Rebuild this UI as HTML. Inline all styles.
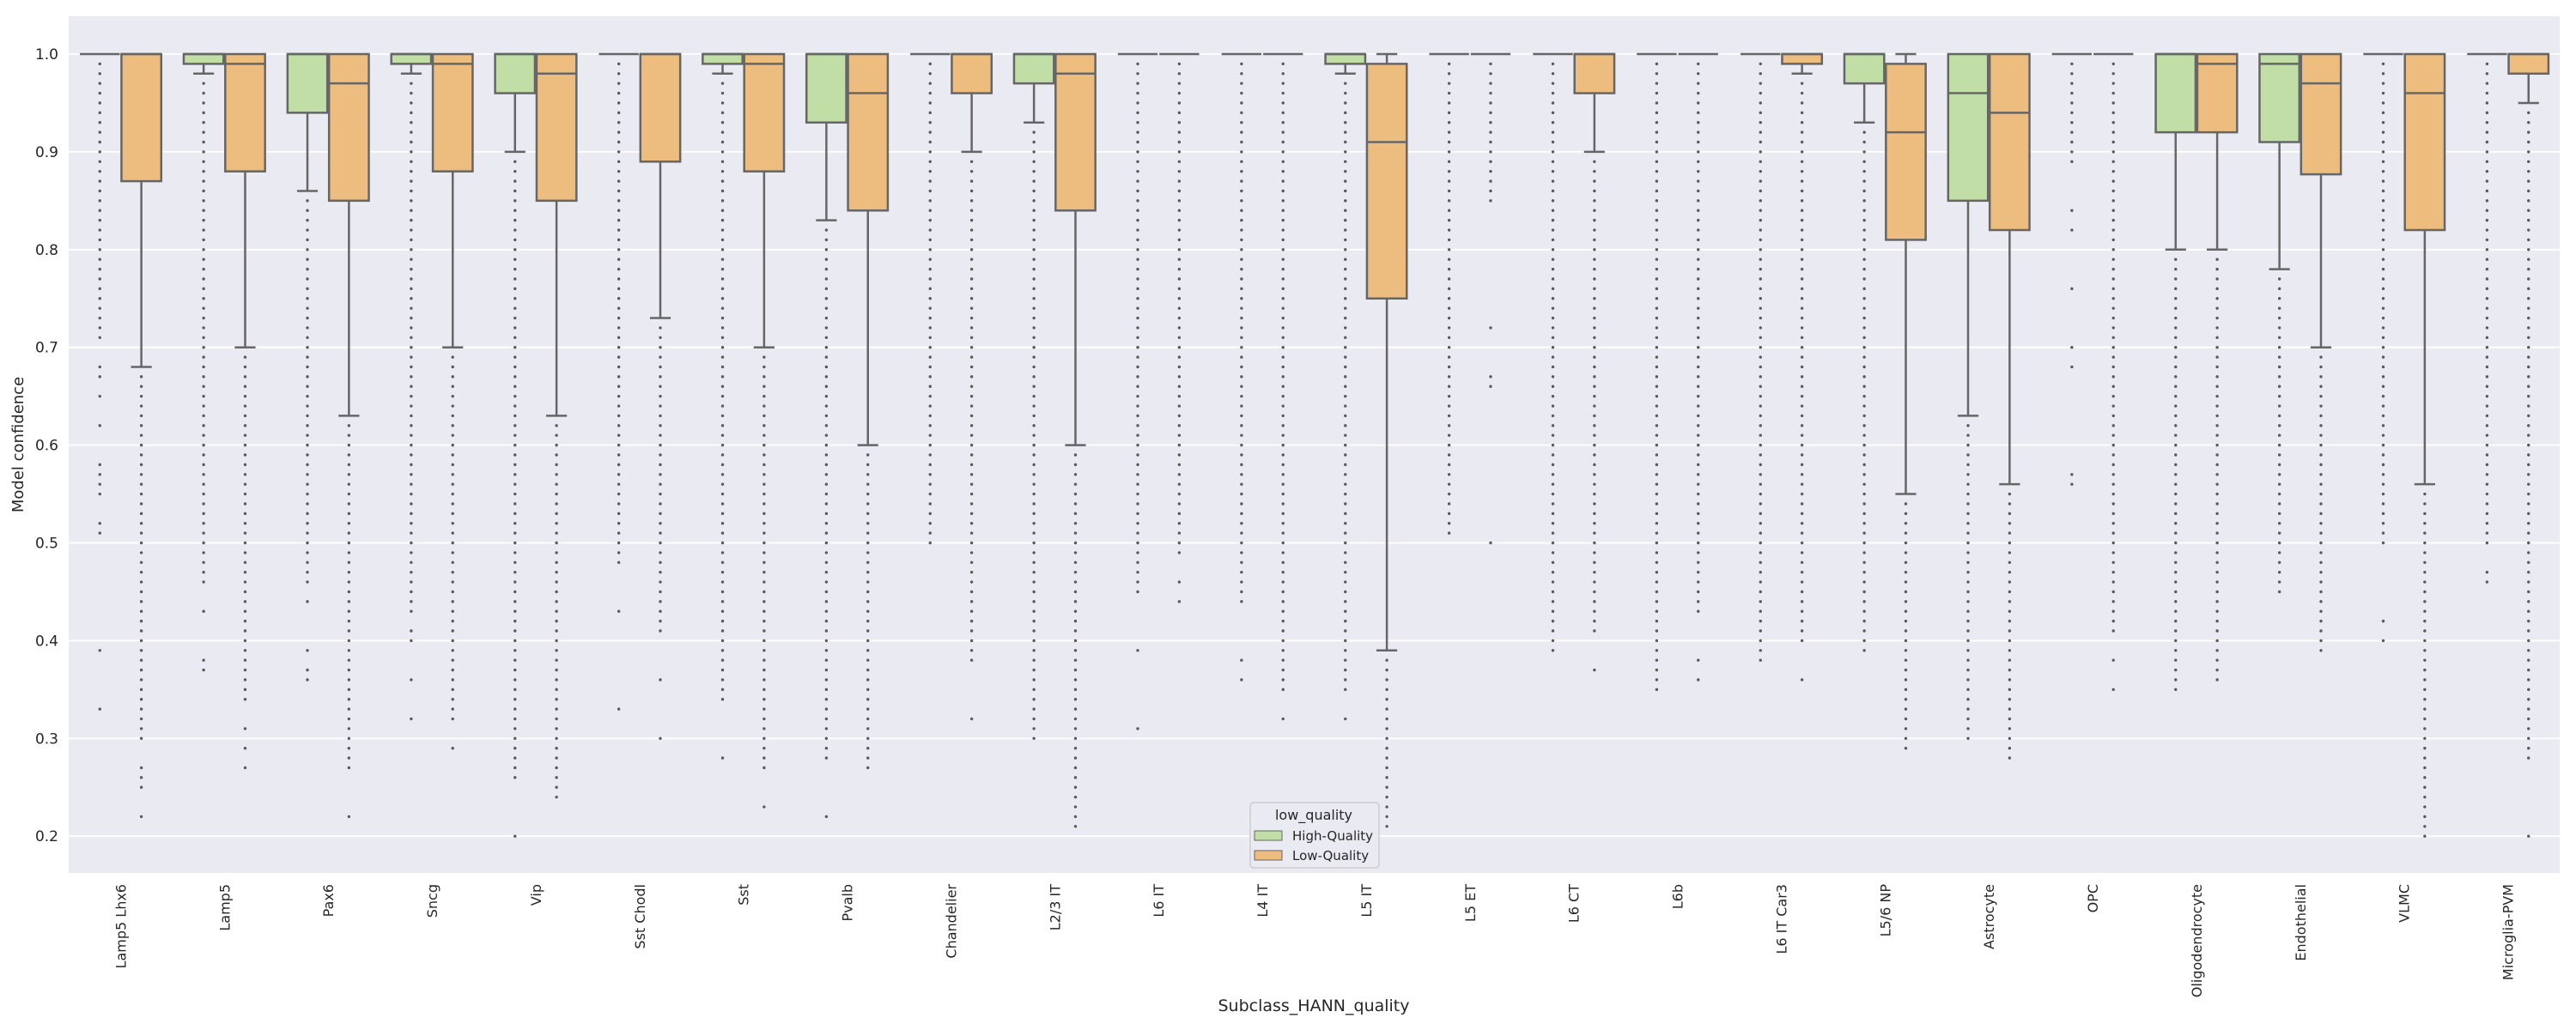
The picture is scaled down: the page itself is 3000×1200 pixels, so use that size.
<!DOCTYPE html>
<html><head><meta charset="utf-8"><style>body{margin:0;background:#fff}svg{display:block}</style></head>
<body>
<svg id="chart" width="3000" height="1200" xmlns="http://www.w3.org/2000/svg" font-family="'DejaVu Sans','Liberation Sans',sans-serif">
<rect x="80" y="19" width="2901" height="998" fill="#eaeaf2"/>
<g id="grid"></g><g id="marks"></g><g id="axes"></g>
<text x="27" y="518" transform="rotate(-90 27 518)" text-anchor="middle" font-size="18" fill="#262626">Model confidence</text>
<text x="1530" y="1178" text-anchor="middle" font-size="19" fill="#262626">Subclass_HANN_quality</text>
<g>
<rect x="1456" y="935" width="150" height="76" rx="4" fill="#eaeaf2" stroke="#cccccc" stroke-width="1.5"/>
<text x="1530" y="955" text-anchor="middle" font-size="16" fill="#262626">low_quality</text>
<rect x="1461" y="968" width="32" height="11" fill="#c1dea7" stroke="#666"/>
<text x="1505" y="979" font-size="15" fill="#262626">High-Quality</text>
<rect x="1461" y="991" width="32" height="11" fill="#ecbd7f" stroke="#666"/>
<text x="1505" y="1002" font-size="15" fill="#262626">Low-Quality</text>
</g>
</svg>
<script>
const categories=["Lamp5 Lhx6","Lamp5","Pax6","Sncg","Vip","Sst Chodl","Sst","Pvalb","Chandelier","L2/3 IT","L6 IT","L4 IT","L5 IT","L5 ET","L6 CT","L6b","L6 IT Car3","L5/6 NP","Astrocyte","OPC","Oligodendrocyte","Endothelial","VLMC","Microglia-PVM"];
const yTicks=[0.2,0.3,0.4,0.5,0.6,0.7,0.8,0.9,1.0];
// High-quality: [whislo, q1, med, q3, whishi]
const hqStats=[[1,1,1,1,1],[.98,.99,1,1,1],[.86,.94,1,1,1],[.98,.99,1,1,1],[.90,.96,1,1,1],[1,1,1,1,1],[.98,.99,1,1,1],[.83,.93,1,1,1],[1,1,1,1,1],[.93,.97,1,1,1],[1,1,1,1,1],[1,1,1,1,1],[.98,.99,1,1,1],[1,1,1,1,1],[1,1,1,1,1],[1,1,1,1,1],[1,1,1,1,1],[.93,.97,1,1,1],[.63,.85,.96,1,1],[1,1,1,1,1],[.80,.92,1,1,1],[.78,.91,.99,1,1],[1,1,1,1,1],[1,1,1,1,1]];
const lqStats=[[.68,.87,1,1,1],[.70,.88,.99,1,1],[.63,.85,.97,1,1],[.70,.88,.99,1,1],[.63,.85,.98,1,1],[.73,.89,1,1,1],[.70,.88,.99,1,1],[.60,.84,.96,1,1],[.90,.96,1,1,1],[.60,.84,.98,1,1],[1,1,1,1,1],[1,1,1,1,1],[.39,.75,.91,.99,1],[1,1,1,1,1],[.90,.96,1,1,1],[1,1,1,1,1],[.98,.99,1,1,1],[.55,.81,.92,.99,1],[.56,.82,.94,1,1],[1,1,1,1,1],[.80,.92,.99,1,1],[.70,.877,.97,1,1],[.56,.82,.96,1,1],[.95,.98,1,1,1]];
// dense outlier runs [top, bottom] (values at 0.01 resolution)
const hqOutRun=[[.99,.71],[.97,.46],[.85,.46],[.97,.43],[.89,.26],[.99,.48],[.97,.34],[.82,.28],[.99,.50],[.92,.30],[.99,.45],[.99,.44],[.97,.35],[.99,.51],[.99,.39],[.99,.35],[.99,.38],[.92,.39],[.62,.30],[.99,.89],[.79,.35],[.77,.45],[.99,.50],[.99,.50]];
const lqOutRun=[[.67,.30],[.69,.34],[.62,.27],[.69,.32],[.62,.24],[.72,.41],[.69,.27],[.59,.27],[.89,.38],[.59,.21],[.99,.49],[.99,.35],[.38,.21],[.99,.85],[.89,.41],[.99,.43],[.97,.40],[.54,.29],[.55,.28],[.99,.41],[.79,.36],[.69,.39],[.55,.20],[.94,.28]];
// isolated extra outliers
const hqOutExtra=[[.68,.67,.65,.62,.58,.57,.56,.55,.52,.51,.39,.33],[.43,.38,.37],[.44,.39,.37,.36],[.41,.40,.36,.32],[.20],[.43,.33],[.28],[.22],[],[],[.39,.31],[.38,.36],[.32],[],[],[],[],[],[],[.84,.82,.76,.70,.68,.57,.56],[],[],[.42,.40],[.47,.46]];
const lqOutExtra=[[.27,.26,.25,.22],[.31,.29,.27],[.22],[.29],[],[.36,.30],[.23],[],[.32],[],[.46,.44],[.32],[],[.72,.67,.66,.50],[.37],[.38,.36],[.36],[],[],[.38,.35],[],[],[],[.20]];

const NS="http://www.w3.org/2000/svg";
const L=80,R=2981,T=19,B=1017;
const step=(R-L)/categories.length;
function xC(i){return L+step*(i+0.5);}
function yS(v){return 63+(1-v)*1139;}
function el(tag,attrs,parent){const e=document.createElementNS(NS,tag);for(const k in attrs)e.setAttribute(k,attrs[k]);parent.appendChild(e);return e;}
const grid=document.getElementById('grid'),marks=document.getElementById('marks'),axes=document.getElementById('axes');
yTicks.forEach(t=>{
  const g=el('line',{x1:L,x2:R,y1:yS(t),y2:yS(t),stroke:'#fff','stroke-width':1.8},grid);
  
  
  const tx=el('text',{x:68,y:yS(t)+6,'text-anchor':'end','font-size':17,fill:'#262626'},axes);
  tx.textContent=t.toFixed(1);
  
  
});
categories.forEach((c,i)=>{
  const tx=el('text',{x:0,y:0,'text-anchor':'end','font-size':16,fill:'#262626',transform:`translate(${xC(i)+6},1030) rotate(-90)`},axes);
  tx.textContent=c;
  
  
});
const bw=step*0.4;
function drawBox(i,s,off,fill,run,extra,name){
  const g=el('g',{},marks);
  
  
  const x0=xC(i)+off*bw,cx=x0+bw/2;
  const [lo,q1,med,q3,hi]=s;
  const st={stroke:'#666','stroke-width':2.5};
  const pts=[];
  for(let v=Math.round(run[0]*100);v>=Math.round(run[1]*100);v--)pts.push(v/100);
  extra.forEach(v=>pts.push(v));
  pts.forEach(v=>{const d=el('circle',{cx:cx,cy:yS(v),r:1.7,fill:'#5a5a5a'},g);});
  if(lo<q1){el('line',Object.assign({x1:cx,x2:cx,y1:yS(q1),y2:yS(lo)},st),g);el('line',Object.assign({x1:cx-bw/4,x2:cx+bw/4,y1:yS(lo),y2:yS(lo)},st),g);}
  if(hi>q3){el('line',Object.assign({x1:cx,x2:cx,y1:yS(q3),y2:yS(hi)},st),g);el('line',Object.assign({x1:cx-bw/4,x2:cx+bw/4,y1:yS(hi),y2:yS(hi)},st),g);}
  if(q3>q1){el('rect',Object.assign({x:x0+1,y:yS(q3),width:bw-2,height:yS(q1)-yS(q3),fill:fill},st),g);}
  el('line',Object.assign({x1:x0+1,x2:x0+bw-1,y1:yS(med),y2:yS(med)},st),g);
}
categories.forEach((c,i)=>{
  drawBox(i,hqStats[i],-1,'#c1dea7',hqOutRun[i],hqOutExtra[i],'box-high-quality');
  drawBox(i,lqStats[i],0,'#ecbd7f',lqOutRun[i],lqOutExtra[i],'box-low-quality');
});
</script>
</body></html>
